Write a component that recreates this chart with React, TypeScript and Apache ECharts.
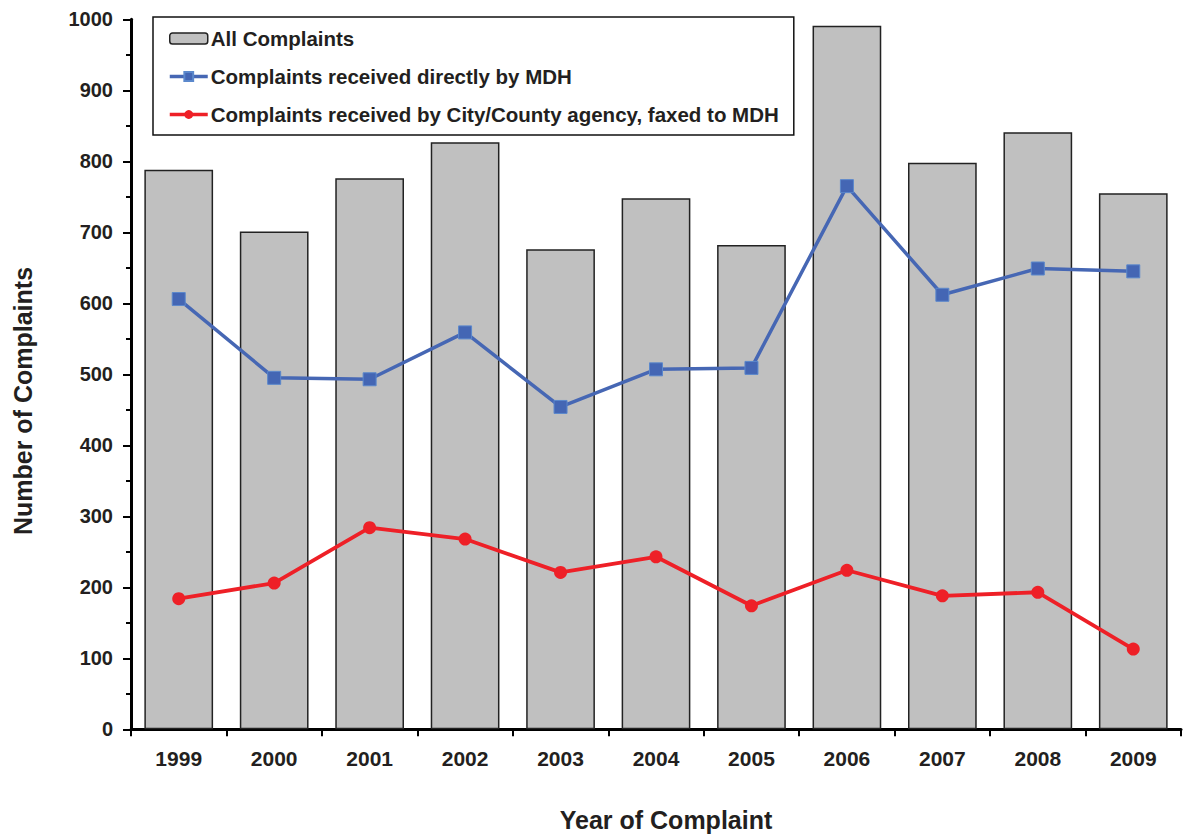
import React, { useEffect, useRef } from "react";
import * as echarts from "echarts";

// Complaint counts by year
const years = ["1999", "2000", "2001", "2002", "2003", "2004", "2005", "2006", "2007", "2008", "2009"];
const allComplaints = [788, 701, 776, 827, 676, 748, 682, 991, 798, 841, 755];
const directToMDH = [606, 495, 493, 559, 454, 507, 509, 765, 612, 649, 645];
const faxedToMDH = [184, 206, 284, 268, 221, 243, 174, 224, 188, 193, 113];

const FONT = "'Liberation Sans', Arial, Helvetica, sans-serif";
const INK = "#231f20";

export default function App() {
  const ref = useRef<HTMLDivElement>(null);

  useEffect(() => {
    if (!ref.current) return;
    const chart = echarts.init(ref.current, null, { renderer: "svg" });
    chart.setOption({
      animation: false,
      backgroundColor: "#ffffff",
      textStyle: { fontFamily: FONT },
      grid: { left: 131, right: 3, top: 19.3, bottom: 105.7 },
      legend: {
        orient: "vertical",
        left: 153,
        top: 17,
        padding: [11, 15, 10, 15],
        itemGap: 17,
        itemWidth: 38,
        itemHeight: 11,
        backgroundColor: "#ffffff",
        borderColor: "#111111",
        borderWidth: 1.5,
        textStyle: { fontFamily: FONT, fontWeight: "bold", fontSize: 20.5, color: INK, padding: [0, 0, 0, -2] },
        data: [
          { name: "All Complaints", itemStyle: { color: "#c0c0c0", borderColor: "#222222", borderWidth: 1.5 } },
          { name: "Complaints received directly by MDH", lineStyle: { width: 3.5 } },
          { name: "Complaints received by City/County agency, faxed to MDH", lineStyle: { width: 3.5 } },
        ],
      },
      xAxis: [
        {
          type: "category",
          data: years,
          position: "bottom",
          axisLine: { lineStyle: { color: "#000000", width: 3 } },
          axisTick: { show: true, interval: 0, length: 7, inside: false, lineStyle: { color: "#000000", width: 2 } },
          axisLabel: { interval: 0, margin: 19, fontFamily: FONT, fontWeight: "bold", fontSize: 21, color: INK },
        },
        {
          type: "category",
          data: years,
          position: "bottom",
          axisLine: { show: false },
          axisTick: { show: true, alignWithLabel: true, interval: 0, length: 5, inside: true, lineStyle: { color: "#000000", width: 2 } },
          axisLabel: { show: false },
        },
      ],
      yAxis: {
        type: "value",
        min: 0,
        max: 1000,
        interval: 100,
        axisLine: { show: true, lineStyle: { color: "#000000", width: 3 } },
        axisTick: { show: true, length: 8, lineStyle: { color: "#000000", width: 2 } },
        minorTick: { show: true, splitNumber: 2, length: 5, lineStyle: { color: "#000000", width: 2 } },
        splitLine: { show: false },
        axisLabel: {
          margin: 18,
          fontFamily: FONT,
          fontWeight: "bold",
          fontSize: 20,
          color: INK,
          formatter: (v: number) => String(v),
        },
      },
      graphic: [
        {
          type: "text",
          x: 666,
          y: 820,
          style: {
            text: "Year of Complaint",
            font: `bold 25px ${FONT}`,
            fill: INK,
            align: "center",
            verticalAlign: "middle",
          },
        },
        {
          type: "text",
          x: 23,
          y: 401,
          rotation: Math.PI / 2,
          style: {
            text: "Number of Complaints",
            font: `bold 25px ${FONT}`,
            fill: INK,
            align: "center",
            verticalAlign: "middle",
          },
        },
      ],
      series: [
        {
          name: "All Complaints",
          type: "bar",
          data: allComplaints,
          barCategoryGap: "28%",
          itemStyle: { color: "#c0c0c0", borderColor: "#222222", borderWidth: 1.5 },
          z: 1,
        },
        {
          name: "Complaints received directly by MDH",
          type: "line",
          data: directToMDH,
          symbol: "rect",
          symbolSize: 13,
          lineStyle: { color: "#4667b4", width: 3.5 },
          itemStyle: { color: "#4466b4", borderColor: "#5b88cc", borderWidth: 1 },
          z: 3,
        },
        {
          name: "Complaints received by City/County agency, faxed to MDH",
          type: "line",
          data: faxedToMDH,
          symbol: "circle",
          symbolSize: 13,
          lineStyle: { color: "#ee2027", width: 3.8 },
          itemStyle: { color: "#ee2027" },
          z: 3,
        },
      ],
    });
    return () => chart.dispose();
  }, []);

  return (
    <div
      ref={ref}
      style={{ position: "fixed", left: 0, top: 0, width: 1184, height: 835, background: "#ffffff" }}
    />
  );
}
